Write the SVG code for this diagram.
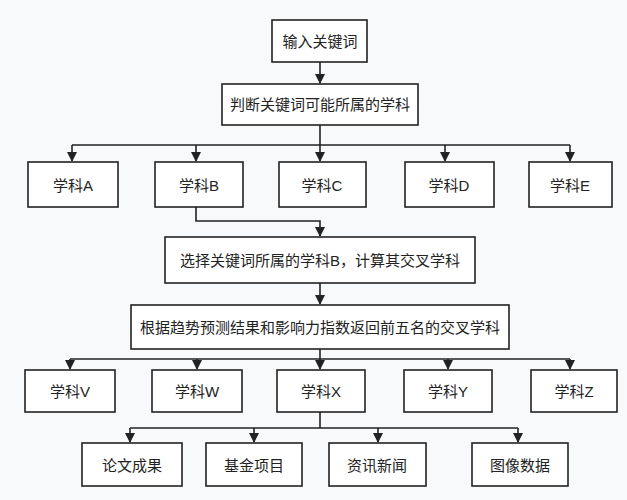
<svg xmlns="http://www.w3.org/2000/svg" width="627" height="500" viewBox="0 0 627 500">
<style>
.b{fill:#fff;stroke:#222;stroke-width:1.6}
.t{font-family:"Liberation Sans","Noto Sans CJK SC",sans-serif;font-size:15px;fill:#222;text-anchor:middle;dominant-baseline:central}
.c{fill:none;stroke:#222;stroke-width:1.6}
</style>
<defs><marker id="a" markerWidth="10" markerHeight="10" refX="9" refY="5" orient="auto" markerUnits="userSpaceOnUse"><path d="M0,0 L10,5 L0,10 Z" fill="#222"/></marker></defs>
<rect width="627" height="500" fill="#f7f9fb"/>
<g id="connectors">
<path class="c" d="M320,62 V83" marker-end="url(#a)"/>
<path class="c" d="M320,125 V145"/>
<path class="c" d="M72,145 H570"/>
<path class="c" d="M72,145 V161" marker-end="url(#a)"/>
<path class="c" d="M196,145 V161" marker-end="url(#a)"/>
<path class="c" d="M320,145 V161" marker-end="url(#a)"/>
<path class="c" d="M445,145 V161" marker-end="url(#a)"/>
<path class="c" d="M570,145 V161" marker-end="url(#a)"/>
<path class="c" d="M196,207 V221 H320 V236" marker-end="url(#a)"/>
<path class="c" d="M320,283 V304" marker-end="url(#a)"/>
<path class="c" d="M320,349 V359"/>
<path class="c" d="M70,359 H570"/>
<path class="c" d="M70,359 V369" marker-end="url(#a)"/>
<path class="c" d="M197,359 V369" marker-end="url(#a)"/>
<path class="c" d="M320,359 V369" marker-end="url(#a)"/>
<path class="c" d="M448,359 V369" marker-end="url(#a)"/>
<path class="c" d="M570,359 V369" marker-end="url(#a)"/>
<path class="c" d="M320,412 V428"/>
<path class="c" d="M130,428 H518"/>
<path class="c" d="M130,428 V442" marker-end="url(#a)"/>
<path class="c" d="M254,428 V442" marker-end="url(#a)"/>
<path class="c" d="M378,428 V442" marker-end="url(#a)"/>
<path class="c" d="M518,428 V442" marker-end="url(#a)"/>
</g>
<g id="n0"><rect class="b" x="272" y="20" width="95" height="42"/><text class="t" x="320" y="41">输入关键词</text></g>
<g id="n1"><rect class="b" x="222" y="84" width="196" height="41"/><text class="t" x="320" y="104">判断关键词可能所属的学科</text></g>
<g id="nA"><rect class="b" x="28" y="162" width="90" height="45"/><text class="t" x="73" y="185">学科A</text></g>
<g id="nB"><rect class="b" x="155" y="162" width="88" height="45"/><text class="t" x="199" y="185">学科B</text></g>
<g id="nC"><rect class="b" x="279" y="162" width="87" height="45"/><text class="t" x="322" y="185">学科C</text></g>
<g id="nD"><rect class="b" x="405" y="162" width="89" height="45"/><text class="t" x="449" y="185">学科D</text></g>
<g id="nE"><rect class="b" x="529" y="162" width="83" height="45"/><text class="t" x="570" y="185">学科E</text></g>
<g id="n2"><rect class="b" x="165" y="237" width="310" height="46"/><text class="t" x="320" y="260">选择关键词所属的学科B，计算其交叉学科</text></g>
<g id="n3"><rect class="b" x="131" y="305" width="378" height="44"/><text class="t" x="320" y="327">根据趋势预测结果和影响力指数返回前五名的交叉学科</text></g>
<g id="nV"><rect class="b" x="25" y="370" width="90" height="42"/><text class="t" x="70" y="391">学科V</text></g>
<g id="nW"><rect class="b" x="152" y="370" width="90" height="42"/><text class="t" x="197" y="391">学科W</text></g>
<g id="nX"><rect class="b" x="277" y="370" width="88" height="42"/><text class="t" x="321" y="391">学科X</text></g>
<g id="nY"><rect class="b" x="404" y="370" width="88" height="42"/><text class="t" x="448" y="391">学科Y</text></g>
<g id="nZ"><rect class="b" x="531" y="370" width="86" height="42"/><text class="t" x="574" y="391">学科Z</text></g>
<g id="p1"><rect class="b" x="82" y="443" width="100" height="43"/><text class="t" x="132" y="465">论文成果</text></g>
<g id="p2"><rect class="b" x="206" y="443" width="96" height="43"/><text class="t" x="254" y="465">基金项目</text></g>
<g id="p3"><rect class="b" x="329" y="443" width="97" height="43"/><text class="t" x="377" y="465">资讯新闻</text></g>
<g id="p4"><rect class="b" x="472" y="443" width="96" height="43"/><text class="t" x="520" y="465">图像数据</text></g>
</svg>
